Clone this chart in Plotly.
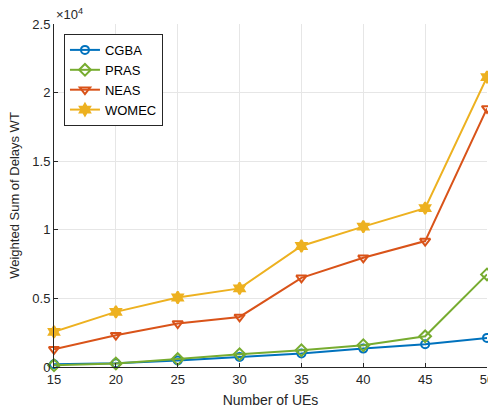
import plotly.graph_objects as go

# Number of UEs on the horizontal axis
num_ues = [15, 20, 25, 30, 35, 40, 45, 50]

# Weighted sum of delays for each scheme
cgba = [200, 270, 470, 730, 980, 1340, 1660, 2120]
pras = [120, 250, 580, 930, 1220, 1590, 2240, 6750]
neas = [1290, 2320, 3170, 3650, 6500, 7960, 9180, 18850]
womec = [2560, 4020, 5070, 5730, 8820, 10230, 11580, 21130]

y_ticks = [0, 5000, 10000, 15000, 20000, 25000]
y_tick_text = ["0", "0.5", "1", "1.5", "2", "2.5"]

series = [
    ("CGBA", cgba, "#0072BD", "circle-open", 8),
    ("PRAS", pras, "#77AC30", "diamond-open", 9),
    ("NEAS", neas, "#D95319", "triangle-down-open", 9),
    ("WOMEC", womec, "#EDB120", "hexagram", 9),
]

fig = go.Figure()
for name, vals, color, symbol, size in series:
    fig.add_trace(go.Scatter(
        x=num_ues, y=vals, name=name, mode="lines+markers",
        line=dict(color=color, width=2),
        marker=dict(symbol=symbol, size=size, color=color,
                    line=dict(color=color, width=2)),
        cliponaxis=False,
    ))

tick_font = dict(family="Liberation Sans, Arial, sans-serif", size=13, color="#262626")
xtitle_font = dict(family="Liberation Sans, Arial, sans-serif", size=14, color="#262626")
ytitle_font = dict(family="Liberation Sans, Arial, sans-serif", size=13, color="#262626")

fig.update_layout(
    width=488, height=411,
    margin=dict(l=54, r=1, t=24, b=44, autoexpand=False),
    paper_bgcolor="white", plot_bgcolor="white",
    font=tick_font,
    showlegend=True,
    legend=dict(
        x=0.023, y=0.971, xanchor="left", yanchor="top",
        bgcolor="white", bordercolor="#262626", borderwidth=1,
        font=dict(family="Liberation Sans, Arial, sans-serif", size=13, color="#000000"),
        itemwidth=30, tracegroupgap=0,
    ),
    xaxis=dict(
        range=[15, 50], tickvals=num_ues, ticks="inside", ticklen=4,
        tickcolor="#262626", showline=True, linecolor="#262626", linewidth=1,
        showgrid=True, gridcolor="#e6e6e6", gridwidth=1, zeroline=False,
        title=dict(text="Number of UEs", standoff=9, font=xtitle_font),
        tickfont=tick_font, ticklabeloverflow="allow", automargin=False,
    ),
    yaxis=dict(
        range=[0, 25000], tickvals=y_ticks, ticktext=y_tick_text,
        ticks="inside", ticklen=4, tickcolor="#262626",
        showline=True, linecolor="#262626", linewidth=1,
        showgrid=True, gridcolor="#e6e6e6", gridwidth=1, zeroline=False,
        title=dict(text="Weighted Sum of Delays WT", standoff=9, font=ytitle_font),
        tickfont=tick_font, automargin=False,
    ),
    annotations=[dict(
        text="×10<sup>4</sup>", xref="paper", yref="paper",
        x=0.0, y=1.0, xanchor="left", yanchor="bottom", yshift=0,
        showarrow=False, font=dict(family="Liberation Sans, Arial, sans-serif", size=13, color="#262626"),
    )],
)

fig.write_html("out.html")
